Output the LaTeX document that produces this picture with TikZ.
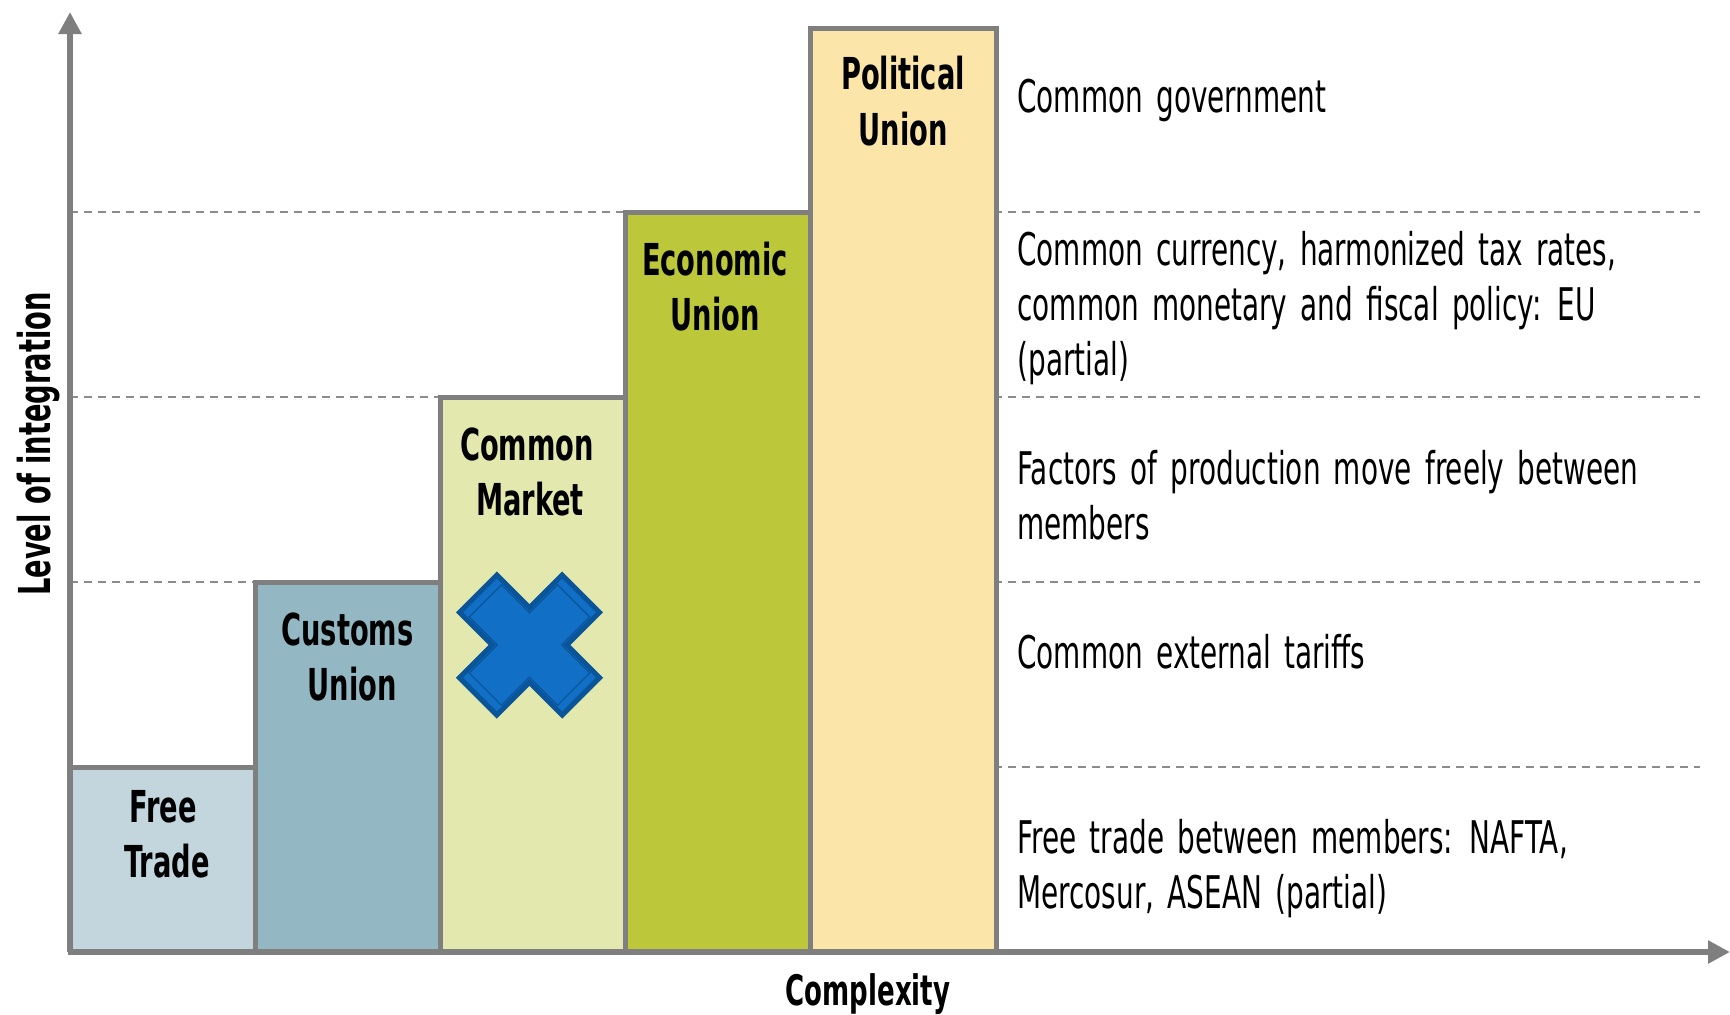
\documentclass[tikz,border=0pt]{standalone}
\usepackage{fontspec}
\setmainfont{DejaVu Sans}[FakeStretch=0.62]
\newfontfamily\descfont{DejaVu Sans}[FakeStretch=0.62, WordSpace=1.5]
\usetikzlibrary{arrows.meta}
\definecolor{axisgray}{HTML}{7F7F7F}
\definecolor{dashgray}{HTML}{8C8C8C}
\definecolor{ftcol}{HTML}{C3D6DE}
\definecolor{cucol}{HTML}{93B8C3}
\definecolor{cmcol}{HTML}{E3E8AE}
\definecolor{eucol}{HTML}{BCC83A}
\definecolor{pucol}{HTML}{FCE5A9}
\definecolor{crossfill}{HTML}{116FC6}
\definecolor{crossline}{HTML}{0A5599}
\tikzset{
  stagebox/.style={draw=axisgray, line width=2.5pt},
  axisline/.style={draw=axisgray, line width=3pt, -{Triangle[length=11pt,width=11pt]}},
  levelline/.style={draw=dashgray, line width=0.8pt, dash pattern=on 4pt off 3pt},
  desc/.style={inner sep=0pt, anchor=base west, font=\descfont\fontsize{22.5pt}{27pt}\selectfont},
  lab/.style={inner sep=0pt, anchor=base, font=\fontsize{22pt}{27pt}\selectfont\bfseries},
  crossshape/.style={fill=crossfill, draw=crossline, line width=2.5pt, line join=miter},
  crossinner/.style={draw=crossline, line width=0.6pt, line join=miter}
}
\begin{document}
\begin{tikzpicture}[x=0.5pt,y=-0.5pt]
\useasboundingbox (0,0) rectangle (1730,1014);
% dashed level lines
\foreach \yy in {212,397,582,767}{
  \draw[levelline] (70,\yy) -- (1700,\yy);
}
% stage boxes
\draw[stagebox, fill=ftcol] (70,952) rectangle (255,767);
\draw[stagebox, fill=cucol] (255,952) rectangle (440,582);
\draw[stagebox, fill=cmcol] (440,952) rectangle (625,397);
\draw[stagebox, fill=eucol] (625,952) rectangle (810,212);
\draw[stagebox, fill=pucol] (810,952) rectangle (996,28);
% axes
\coordinate (origin) at (70,952);
\coordinate (ytip) at (70,12);
\coordinate (xtip) at (1730,952);
\draw[axisline] (origin) -- (ytip);
\draw[axisline] (origin) -- (xtip);
% cross
\begin{scope}[shift={(529.5,645)}, scale=0.96]
\draw[crossshape] (-73,-34) -- (-34,-73) -- (0,-39) -- (34,-73) -- (73,-34) -- (39,0) -- (73,34) -- (34,73) -- (0,39) -- (-34,73) -- (-73,34) -- (-39,0) -- cycle;
\begin{scope}[scale=0.86]
\draw[crossinner] (-73,-34) -- (-34,-73) -- (0,-39) -- (34,-73) -- (73,-34) -- (39,0) -- (73,34) -- (34,73) -- (0,39) -- (-34,73) -- (-73,34) -- (-39,0) -- cycle;
\end{scope}
\end{scope}
% box labels
\node[lab] (ft1) at (163,822) {Free};
\node[lab] (ft2) at (167,877) {Trade};
\node[lab] (cu1) at (347.5,645) {Customs};
\node[lab] (cu2) at (352,700) {Union};
\node[lab] (cm1) at (527,460) {Common};
\node[lab] (cm2) at (530,515) {Market};
\node[lab] (eu1) at (715,275) {Economic};
\node[lab] (eu2) at (715,330) {Union};
\node[lab] (pu1) at (903,89) {Political};
\node[lab] (pu2) at (903,145) {Union};
% descriptions
\node[desc] (d1) at (1017,112) {Common government};
\node[desc] (d2) at (1017,265) {Common currency, harmonized tax rates,};
\node[desc] (d3) at (1017,320) {common monetary and fiscal policy: EU};
\node[desc] (d4) at (1017,375) {(partial)};
\node[desc] (d5) at (1017,484) {Factors of production move freely between};
\node[desc] (d6) at (1017,539) {members};
\node[desc] (d7) at (1017,668) {Common external tariffs};
\node[desc] (d8) at (1017,853) {Free trade between members: NAFTA,};
\node[desc] (d9) at (1017,908) {Mercosur, ASEAN (partial)};
% axis titles
\node[lab, font=\fontsize{21pt}{25pt}\selectfont\bfseries] (xlab) at (868,1005) {Complexity};
\node[lab, rotate=90] (ylab) at (50,444) {Level of integration};
\end{tikzpicture}
\end{document}
